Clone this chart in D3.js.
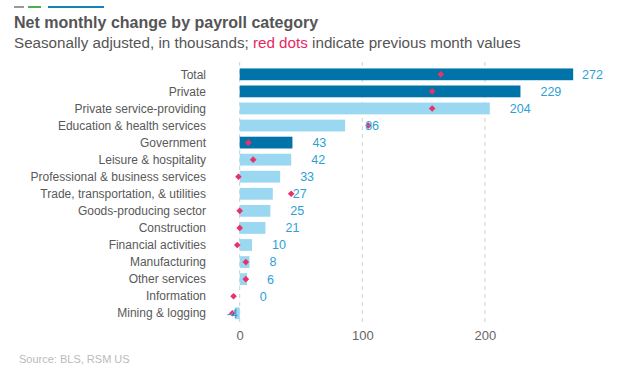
<!DOCTYPE html>
<html>
<head>
<meta charset="utf-8">
<script src="https://cdn.jsdelivr.net/npm/d3@7"></script>
<style>
  body { margin: 0; background: #fff; }
  svg { font-family: "Liberation Sans", Arial, sans-serif; }
</style>
</head>
<body>
<svg id="mainsvg" width="624" height="371"></svg>
<script>
// data
const categories = ['Total', 'Private', 'Private service-providing', 'Education & health services',
  'Government', 'Leisure & hospitality', 'Professional & business services',
  'Trade, transportation, & utilities', 'Goods-producing sector', 'Construction',
  'Financial activities', 'Manufacturing', 'Other services', 'Information', 'Mining & logging'];
const current = [272, 229, 204, 86, 43, 42, 33, 27, 25, 21, 10, 8, 6, 0, -4];
const previous = [164, 157, 157, 105, 7, 11, -1, 42, 0, 0, -2, 5, 5, -5, -6];
const highlighted = ['Total', 'Private', 'Government'];
const xTicks = [0, 100, 200];

const svg = d3.select('#mainsvg');
const width = +svg.attr('width');
const height = +svg.attr('height');

// decoration lines at top
const deco = [[14, 24, '#9a9a9a'], [28, 41, '#4caf50'], [48, 104, '#1a7fb5']];
svg.selectAll('.deco').data(deco).join('line')
  .attr('x1', d => d[0]).attr('x2', d => d[1])
  .attr('y1', 7).attr('y2', 7)
  .attr('stroke', d => d[2]).attr('stroke-width', 2);

// titles
svg.append('text').attr('x', 14).attr('y', 28)
  .style('font-size', '16px').style('font-weight', 'bold').attr('fill', '#555')
  .text('Net monthly change by payroll category');
const sub = svg.append('text').attr('x', 14).attr('y', 48)
  .style('font-size', '15.2px').attr('fill', '#555');
sub.append('tspan').text('Seasonally adjusted, in thousands; ');
sub.append('tspan').attr('fill', '#e8285f').text('red dots');
sub.append('tspan').text(' indicate previous month values');

// scales
const xScale = d3.scaleLinear().domain([0, 100]).range([239.7, 362.3]);
const yScale = d3.scaleBand().domain(categories)
  .range([65.8, 321.8]).paddingInner(0.31).paddingOuter(0.155);

// grid
svg.selectAll('.grid').data(xTicks).join('line')
  .attr('x1', d => xScale(d)).attr('x2', d => xScale(d))
  .attr('y1', 62).attr('y2', 322)
  .attr('stroke', '#cfcfcf').attr('stroke-dasharray', '4,4').attr('stroke-width', 1);

// x axis labels
const xAxis = svg.append('g').attr('transform', 'translate(0, 322)')
  .call(d3.axisBottom(xScale).tickValues(xTicks).tickSize(0).tickPadding(9));
xAxis.select('.domain').remove();
xAxis.selectAll('text').style('font-size', '13px').attr('fill', '#666')
  .style('font-family', '"Liberation Sans", Arial, sans-serif');

// category labels
svg.selectAll('.cat').data(categories).join('text')
  .attr('x', 206).attr('y', d => yScale(d) + yScale.bandwidth() / 2)
  .attr('dy', '0.35em').attr('text-anchor', 'end')
  .style('font-size', '12px').attr('fill', '#595959')
  .text(d => d);

// bars
svg.selectAll('.bar').data(categories).join('rect')
  .attr('x', (d, i) => xScale(Math.min(0, current[i])))
  .attr('y', d => yScale(d))
  .attr('width', (d, i) => Math.abs(xScale(current[i]) - xScale(0)))
  .attr('height', yScale.bandwidth())
  .attr('fill', d => highlighted.includes(d) ? '#0073a8' : '#9ad7f1');

// previous month markers
svg.selectAll('.prev').data(categories).join('path')
  .attr('d', d3.symbol().type(d3.symbolDiamond2).size(28))
  .attr('transform', (d, i) => `translate(${xScale(previous[i])}, ${yScale(d) + yScale.bandwidth() / 2})`)
  .attr('fill', '#e8336a');

// value labels
svg.selectAll('.val').data(categories).join('text')
  .attr('x', (d, i) => current[i] < 0 ? xScale(current[i]) + 3 : Math.min(xScale(current[i]) + 20, 582))
  .attr('y', d => yScale(d) + yScale.bandwidth() / 2)
  .attr('dy', '0.35em')
  .attr('text-anchor', (d, i) => current[i] < 0 ? 'end' : 'start')
  .style('font-size', '12.5px').attr('fill', '#2d9fd8')
  .text((d, i) => current[i]);

// source
svg.append('text').attr('x', 19).attr('y', 363)
  .style('font-size', '11px').attr('fill', '#bbbbbb')
  .text('Source: BLS, RSM US');
</script>
</body>
</html>
